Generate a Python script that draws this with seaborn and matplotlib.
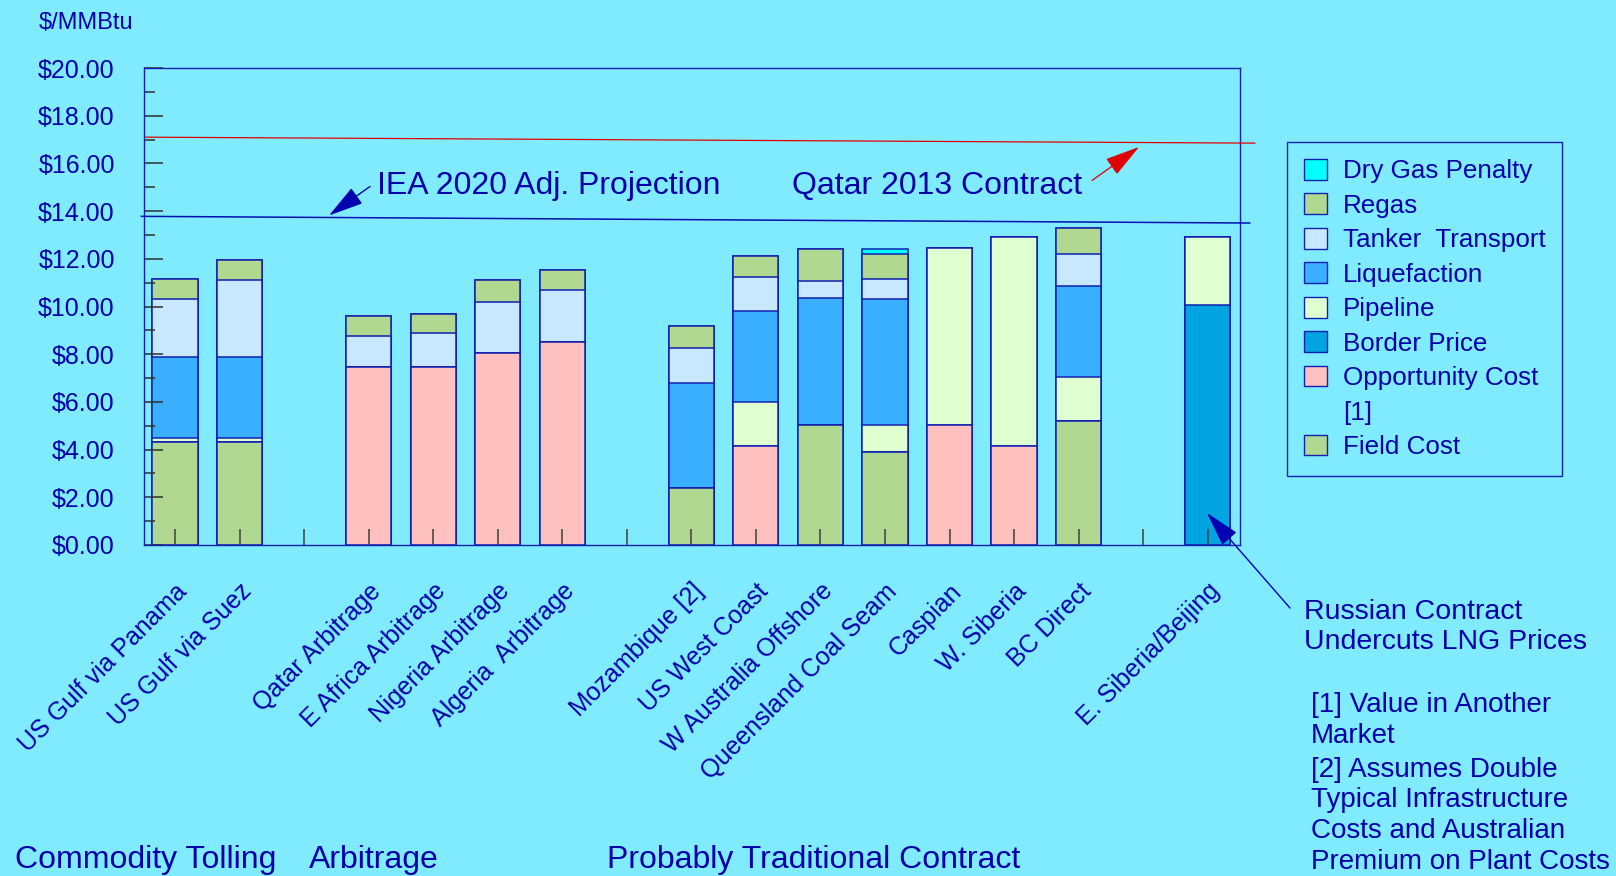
import numpy as np
import pandas as pd
import matplotlib
matplotlib.use('Agg')
import matplotlib.pyplot as plt
from matplotlib.patches import Patch
from matplotlib.ticker import MultipleLocator, FuncFormatter
import seaborn as sns


# DATOS ($/MMBtu) - los huecos entre grupos son categorias vacias
categories = ['US Gulf via Panama', 'US Gulf via Suez', ' ',
              'Qatar Arbitrage', 'E Africa Arbitrage', 'Nigeria Arbitrage', 'Algeria  Arbitrage', '  ',
              'Mozambique [2]', 'US West Coast', 'W Australia Offshore', 'Queensland Coal Seam',
              'Caspian', 'W. Siberia', 'BC Direct', '   ', 'E. Siberia/Beijing']

field_cost   = [4.30, 4.30, 0, 0, 0, 0, 0, 0, 2.40, 0, 5.05, 3.90, 0, 0, 5.20, 0, 0]
opportunity  = [0, 0, 0, 7.45, 7.45, 8.05, 8.50, 0, 0, 4.15, 0, 0, 5.05, 4.15, 0, 0, 0]
border_price = [0, 0, 0, 0, 0, 0, 0, 0, 0, 0, 0, 0, 0, 0, 0, 0, 10.05]
pipeline     = [0.20, 0.20, 0, 0, 0, 0, 0, 0, 0, 1.85, 0, 1.15, 7.40, 8.75, 1.85, 0, 2.85]
liquefaction = [3.40, 3.40, 0, 0, 0, 0, 0, 0, 4.40, 3.80, 5.30, 5.25, 0, 0, 3.80, 0, 0]
tanker       = [2.40, 3.20, 0, 1.30, 1.45, 2.15, 2.20, 0, 1.45, 1.45, 0.70, 0.85, 0, 0, 1.35, 0, 0]
regas        = [0.85, 0.85, 0, 0.85, 0.80, 0.90, 0.85, 0, 0.95, 0.85, 1.35, 1.05, 0, 0, 1.10, 0, 0]
dry_gas      = [0, 0, 0, 0, 0, 0, 0, 0, 0, 0, 0, 0.20, 0, 0, 0, 0, 0]

# lineas de referencia (inicio, fin)
iea_2020 = [13.78, 13.50]
qatar_2013 = [17.10, 16.85]

BG = '#80EAFF'
TEXT = '#0000A8'
EDGE = '#1020B0'

# capas de abajo hacia arriba
layers = [
    ('Field Cost', field_cost, '#B0D890'),
    ('Opportunity Cost', opportunity, '#FFC0C0'),
    ('Border Price', border_price, '#00A4E0'),
    ('Pipeline', pipeline, '#E0FFD0'),
    ('Liquefaction', liquefaction, '#3AAEFF'),
    ('Tanker  Transport', tanker, '#C8E8FF'),
    ('Regas', regas, '#B0D890'),
    ('Dry Gas Penalty', dry_gas, '#00FFFF'),
]
colors = {name: c for name, _, c in layers}

df = pd.DataFrame({'route': categories})
running = np.zeros(len(categories))
for name, vals, _ in layers:
    running = running + np.array(vals)
    df['cum ' + name] = running

W, H = 1616, 876
def fp(x, y):
    return (x / W, 1 - y / H)

plt.rcParams['font.family'] = ['Liberation Sans', 'DejaVu Sans']

fig = plt.figure(figsize=(W / 100, H / 100), dpi=100, facecolor=BG)
ax = fig.add_axes([144 / W, 1 - 545 / H, (1240 - 144) / W, (545 - 68) / H])
ax.set_facecolor(BG)

# barras apiladas: se dibuja el acumulado de arriba hacia abajo
for name, _, color in reversed(layers):
    sns.barplot(data=df, x='route', y='cum ' + name, order=categories, color=color,
                saturation=1, width=0.7, edgecolor=EDGE, linewidth=1.1,
                errorbar=None, ax=ax)

# sin borde en las columnas vacias
for p in ax.patches:
    if p.get_height() == 0:
        p.set_linewidth(0)

ax.set_xlim(-0.48, 16.5)
ax.set_ylim(0, 20)
ax.set_xlabel('')
ax.set_ylabel('')

for s in ax.spines.values():
    s.set_color(EDGE)
    s.set_linewidth(1.0)

ax.yaxis.set_major_locator(MultipleLocator(2))
ax.yaxis.set_minor_locator(MultipleLocator(1))
ax.yaxis.set_major_formatter(FuncFormatter(lambda v, p: '$%.2f' % v))
ax.tick_params(axis='y', which='major', direction='in', length=13.5, width=1.1,
               color='#303030', pad=21, labelsize=18, labelcolor=TEXT)
ax.tick_params(axis='y', which='minor', direction='in', length=8, width=1.1, color='#303030')

ax.set_xticks(range(len(categories)))
ax.set_xticklabels(categories, rotation=45, ha='right', va='top', rotation_mode='anchor')
ax.tick_params(axis='x', direction='in', length=11.5, width=1.1, color='#404040',
               pad=24.5, labelsize=18, labelcolor=TEXT)

# lineas de referencia (salen un poco del marco)
x0, x1 = ax.get_xlim()
ax.plot([x0 + 0.03, x1 + 0.23], qatar_2013, color='#E00000', lw=0.9, clip_on=False, zorder=3)
ax.plot([x0 - 0.04, x1 + 0.15], iea_2020, color='#0010B0', lw=1.1, clip_on=False, zorder=3)

# textos
fig.text(*fp(39, 29), '$/MMBtu', fontsize=17, color=TEXT, va='baseline')
fig.text(*fp(377, 194), 'IEA 2020 Adj. Projection', fontsize=23, color=TEXT, va='baseline')
fig.text(*fp(792, 194), 'Qatar 2013 Contract', fontsize=23, color=TEXT, va='baseline')

arrow = '-|>,head_length=1.1,head_width=0.3'
fig.add_artist(plt.Annotation('', xy=fp(329, 215.5), xytext=fp(370, 186.5), xycoords='figure fraction',
                              arrowprops=dict(arrowstyle=arrow, color='#0000B0', lw=1.0,
                                              shrinkA=0, shrinkB=0, mutation_scale=20)))
fig.add_artist(plt.Annotation('', xy=fp(1139, 147), xytext=fp(1092, 180.5), xycoords='figure fraction',
                              arrowprops=dict(arrowstyle=arrow, color='#E00000', lw=0.9,
                                              shrinkA=0, shrinkB=0, mutation_scale=20)))
fig.add_artist(plt.Annotation('', xy=fp(1207, 513), xytext=fp(1290, 608), xycoords='figure fraction',
                              arrowprops=dict(arrowstyle=arrow, color='#0000B0', lw=1.0,
                                              shrinkA=0, shrinkB=0, mutation_scale=20)))

for txt, yb in [('Russian Contract', 619), ('Undercuts LNG Prices', 649)]:
    fig.text(*fp(1304, yb), txt, fontsize=20.5, color=TEXT, va='baseline')

notes = [('[1] Value in Another', 712), ('Market', 743), ('[2] Assumes Double', 777),
         ('Typical Infrastructure', 807), ('Costs and Australian', 838), ('Premium on Plant Costs', 869)]
for txt, yb in notes:
    fig.text(*fp(1311, yb), txt, fontsize=20, color=TEXT, va='baseline')

for txt, xl in [('Commodity Tolling', 15), ('Arbitrage', 309), ('Probably Traditional Contract', 607)]:
    fig.text(*fp(xl, 868), txt, fontsize=23, color=TEXT, va='baseline')

# leyenda
legend_order = ['Dry Gas Penalty', 'Regas', 'Tanker  Transport', 'Liquefaction', 'Pipeline',
                'Border Price', 'Opportunity Cost', '[1]', 'Field Cost']
handles = []
for name in legend_order:
    if name == '[1]':
        handles.append(Patch(facecolor='none', edgecolor='none'))
    else:
        handles.append(Patch(facecolor=colors[name], edgecolor=EDGE, linewidth=1.0))
leg = fig.legend(handles, legend_order, loc='upper left', bbox_to_anchor=fp(1287, 142),
                 borderaxespad=0, fontsize=18.7, labelcolor=TEXT, frameon=True, fancybox=False,
                 facecolor=BG, edgecolor=EDGE, framealpha=1, handlelength=0.88,
                 handleheight=0.85, handletextpad=0.62, labelspacing=0.39, borderpad=0.65)
leg.get_frame().set_linewidth(1.0)

fig.savefig('out.png', dpi=100, facecolor=BG)
